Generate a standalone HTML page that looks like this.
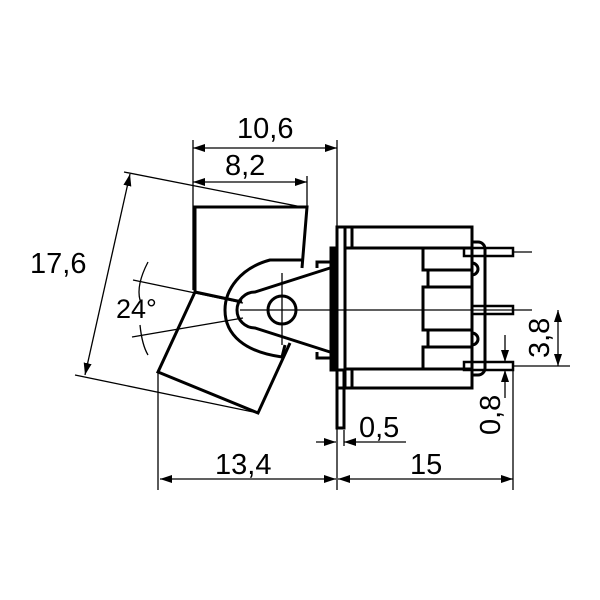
<!DOCTYPE html>
<html><head><meta charset="utf-8"><style>
html,body{margin:0;padding:0;background:#fff;}
svg{display:block;}
text{font-family:"Liberation Sans",sans-serif;font-size:29px;fill:#000;}
</style></head><body>
<svg width="600" height="600" viewBox="0 0 600 600" xmlns="http://www.w3.org/2000/svg">
<defs>
<marker id="a" viewBox="0 0 12 8" refX="12" refY="4" markerWidth="12" markerHeight="8" markerUnits="userSpaceOnUse" orient="auto-start-reverse"><path d="M0,0 L12,4 L0,8 Z" fill="#000"/></marker>
</defs>
<g fill="none" stroke="#000">
<!-- dimension lines thin -->
<g stroke-width="1.3">
<line x1="193" y1="140" x2="193" y2="290"/>
<line x1="337" y1="140" x2="337" y2="230"/>
<line x1="193" y1="148" x2="337" y2="148" marker-start="url(#a)" marker-end="url(#a)"/>
<line x1="307" y1="176" x2="307" y2="207"/>
<line x1="193" y1="182" x2="307" y2="182" marker-start="url(#a)" marker-end="url(#a)"/>
<line x1="124" y1="172" x2="302" y2="207"/>
<line x1="75" y1="375" x2="258" y2="413"/>
<line x1="130" y1="174" x2="85" y2="375" marker-start="url(#a)" marker-end="url(#a)"/>
<line x1="133" y1="280" x2="243" y2="303"/>
<line x1="132" y1="337" x2="243" y2="318"/>
<path d="M148,262 Q136,285 140,300"/>
<path d="M140,325 Q142,345 148,355"/>
<line x1="240" y1="310" x2="532" y2="310"/>
<line x1="282" y1="273" x2="282" y2="345"/>
<line x1="158" y1="372" x2="158" y2="490"/>
<line x1="337" y1="428" x2="337" y2="490"/>
<line x1="513" y1="370" x2="513" y2="490"/>
<line x1="160" y1="479" x2="336" y2="479" marker-start="url(#a)" marker-end="url(#a)"/>
<line x1="338" y1="479" x2="513" y2="479" marker-start="url(#a)" marker-end="url(#a)"/>
<line x1="316" y1="442" x2="336" y2="442" marker-end="url(#a)"/>
<line x1="406" y1="442" x2="344" y2="442" marker-end="url(#a)"/>
<line x1="344" y1="430" x2="344" y2="446"/>
<line x1="513" y1="252" x2="532" y2="252"/>
<line x1="513" y1="366" x2="570" y2="366"/>
<line x1="558" y1="310" x2="558" y2="366" marker-start="url(#a)" marker-end="url(#a)"/>
<line x1="505" y1="335" x2="505" y2="362" marker-end="url(#a)"/>
<line x1="505" y1="398" x2="505" y2="370" marker-end="url(#a)"/>
</g>
<!-- lever -->
<g stroke-width="3" stroke-linejoin="miter">
<path d="M195,292 L195,207 L307,207 L302,268"/>
<path d="M195,292 L242,302"/>
<path d="M195,292 L158,372 L258,413 L290,343"/>
<path d="M302,260 L270,260 C240,268 225,290 225,310 C225,335 245,352 282,357 L285,345"/>
<path d="M330,268 L255,292 A18,18 0 0 0 255,328 L330,352"/>
<circle cx="282" cy="310" r="14"/>
<path d="M317,268 L317,262 L330,262"/>
<path d="M317,352 L317,358 L330,358"/>
<rect x="331" y="248" width="4" height="122" fill="#000"/>
<!-- body -->
<rect x="337" y="227" width="135" height="161"/>
<rect x="337" y="370" width="7" height="58"/>
<line x1="345" y1="227" x2="345" y2="388"/>
<line x1="352" y1="227" x2="352" y2="248"/>
<line x1="352" y1="369" x2="352" y2="388"/>
<line x1="345" y1="248" x2="472" y2="248"/>
<line x1="345" y1="369" x2="472" y2="369"/>
<path d="M423,248 L423,270 L428,270 L428,287 L423,287 L423,330 L428,330 L428,347 L423,347 L423,369"/>
<line x1="428" y1="270" x2="472" y2="270"/>
<line x1="423" y1="287" x2="472" y2="287"/>
<line x1="423" y1="330" x2="472" y2="330"/>
<line x1="428" y1="347" x2="472" y2="347"/>
<path d="M472,242 L478,242 A7,7 0 0 1 485,249 L485,368 A7,7 0 0 1 478,375 L472,375"/>
<path d="M472,263 A6,6 0 0 1 472,275"/>
<path d="M472,333 A6,6 0 0 1 472,345"/>
</g>
<g stroke-width="2.5">
<rect x="464" y="248" width="49" height="8"/>
<rect x="472" y="306" width="41" height="8"/>
<rect x="464" y="362" width="49" height="8"/>
</g>
</g>
<text x="237" y="138">10,6</text>
<text x="225" y="175">8,2</text>
<text x="30" y="273">17,6</text>
<text x="116" y="318" style="font-size:27px">24°</text>
<text x="215" y="474">13,4</text>
<text x="410" y="474">15</text>
<text x="359" y="437">0,5</text>
<text transform="translate(549,358) rotate(-90)">3,8</text>
<text transform="translate(500,435) rotate(-90)">0,8</text>
</svg>
</body></html>
